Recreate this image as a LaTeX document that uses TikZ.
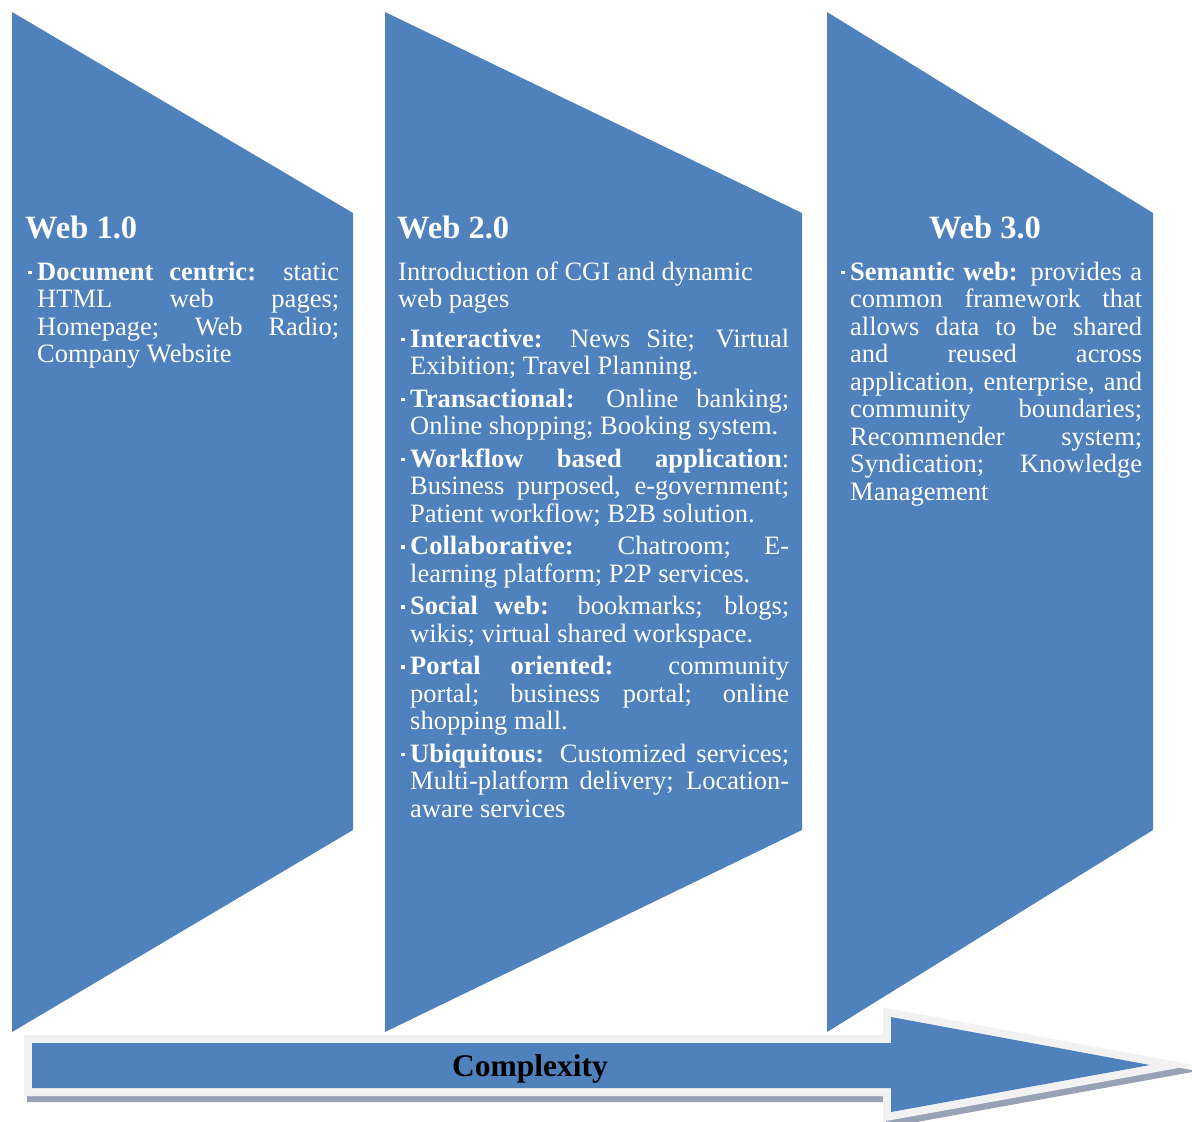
\documentclass[tikz,border=0pt]{standalone}
\usepackage{fontspec}
\setmainfont{Liberation Serif}
\definecolor{webblue}{HTML}{4F81BD}
\definecolor{arrowrim}{HTML}{F2F2F2}
\definecolor{arrowshade}{HTML}{97A3B4}
\tolerance=10000
\hbadness=10000
\hyphenpenalty=10000
\exhyphenpenalty=10000
\newcommand{\webbullet}{\makebox[9pt][l]{\raisebox{6pt}{\rule{3.5pt}{3.5pt}}}}
\newcommand{\webitem}[1]{\par\hangindent=9pt\hangafter=1\noindent\webbullet#1}
\newcommand{\webblock}[2]{\begin{minipage}[t]{#1}\tolerance=10000 #2\end{minipage}}
\tikzset{
  panel/.style={fill=webblue},
  heading/.style={inner sep=0pt, text=white, font=\fontsize{32.5}{32.5}\selectfont\bfseries},
  bodytext/.style={anchor=base west, inner sep=0pt, text=white, font=\fontsize{26.5}{27.5}\selectfont},
}
\begin{document}
\begin{tikzpicture}[x=1pt, y=-1pt]
      \useasboundingbox (0,0) rectangle (1192,1122);
      %%%%%%%%%%%%%%%%%%%%%%%%%%%%%%%%%%%%%%%%%%%%%%%
      \fill[panel] (12,12) -- (353,213) -- (353,830) -- (12,1032) -- cycle;
      \fill[panel] (385,12) -- (802,213) -- (802,830) -- (385,1032) -- cycle;
      \fill[panel] (827,12) -- (1153,213) -- (1153,830) -- (827,1032) -- cycle;
      %%%%%%%%%%%%%%%%%%%%%%%%%%%%%%%%%%%%%%%%%%%%%%%
      \node[heading, anchor=base west] at (25,238) (title1) {Web 1.0};
      \node[bodytext] at (28,280) (body1) {\webblock{311pt}{\webitem{\textbf{Document centric:} static\linebreak HTML web pages;\linebreak Homepage; Web Radio;\linebreak Company Website}}};
      %%%%%%%%%%%%%%%%%%%%%%%%%%%%%%%%%%%%%%%%%%%%%%%
      \node[heading, anchor=base west] at (397,238) (title2) {Web 2.0};
      \node[bodytext] at (398,280) (intro2) {\webblock{391pt}{\raggedright Introduction of CGI and dynamic web pages}};
      \node[bodytext] at (401,347) (items2) {\webblock{388pt}{\setlength{\parskip}{5pt}%
        \webitem{\textbf{Interactive:} News Site; Virtual\linebreak Exibition; Travel Planning.}
        \webitem{\textbf{Transactional:} Online banking;\linebreak Online shopping; Booking system.}
        \webitem{\textbf{Workflow based application}:\linebreak Business purposed, e-government;\linebreak Patient workflow; B2B solution.}
        \webitem{\textbf{Collaborative:} Chatroom; E-\linebreak learning platform; P2P services.}
        \webitem{\textbf{Social web:} bookmarks; blogs;\linebreak wikis; virtual shared workspace.}
        \webitem{\textbf{Portal oriented:} community\linebreak portal; business portal; online\linebreak shopping mall.}
        \webitem{\textbf{Ubiquitous:} Customized services;\linebreak Multi-platform delivery; Location-\linebreak aware services}}};
      %%%%%%%%%%%%%%%%%%%%%%%%%%%%%%%%%%%%%%%%%%%%%%%
      \node[heading, anchor=base] at (985,238) (title3) {Web 3.0};
      \node[bodytext] at (841,280) (body3) {\webblock{301pt}{\webitem{\textbf{Semantic web:} provides a\linebreak common framework that\linebreak allows data to be shared\linebreak and reused across\linebreak application, enterprise, and\linebreak community boundaries;\linebreak Recommender system;\linebreak Syndication; Knowledge\linebreak Management}}};
      %%%%%%%%%%%%%%%%%%%%%%%%%%%%%%%%%%%%%%%%%%%%%%%
      \draw[arrowshade, fill=arrowshade, line width=16pt, shift={(3,6)}] (32,1043) -- (891,1043) -- (891,1017) -- (1150,1065) -- (891,1112) -- (891,1088) -- (32,1088) -- cycle;
      \draw[arrowrim, fill=arrowrim, line width=16pt] (32,1043) -- (891,1043) -- (891,1017) -- (1150,1065) -- (891,1112) -- (891,1088) -- (32,1088) -- cycle;
      \fill[webblue] (32,1043) -- (891,1043) -- (891,1017) -- (1150,1065) -- (891,1112) -- (891,1088) -- (32,1088) -- cycle;
      \node[heading, text=black, font=\fontsize{31.5}{31.5}\selectfont\bfseries, anchor=base] at (530,1076) (complexity) {Complexity};
      %%%%%%%%%%%%%%%%%%%%%%%%%%%%%%%%%%%%%%%%%%%%%%%
\end{tikzpicture}
\end{document}
